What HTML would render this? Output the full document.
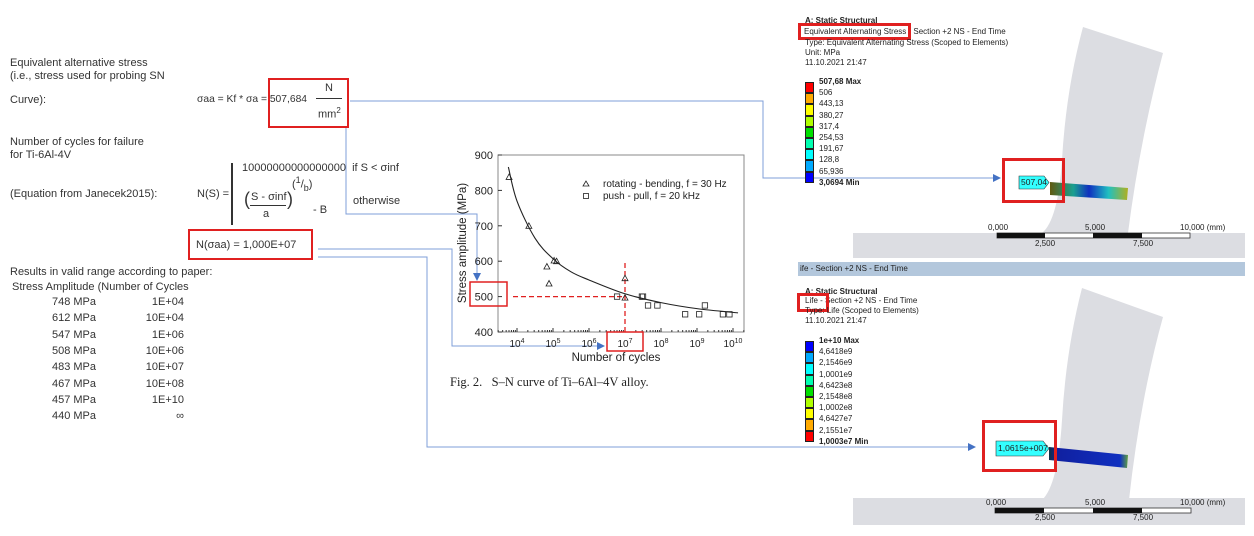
<!DOCTYPE html>
<html><head><meta charset="utf-8"><style>
body{margin:0;width:1254px;height:536px;background:#fff;overflow:hidden;position:relative;font-family:"Liberation Sans","DejaVu Sans",sans-serif;color:#333}
.t{position:absolute;font-size:11px;white-space:nowrap;line-height:1}
.s{position:absolute;font-size:8px;white-space:nowrap;line-height:1;color:#222}
.rb{position:absolute;border:2px solid #e02020;box-sizing:border-box}
</style></head><body>
<svg width="1254" height="536" style="position:absolute;left:0;top:0">
<defs><marker id="ar" markerWidth="8" markerHeight="8" refX="7" refY="4" orient="auto"><path d="M0,0L8,4L0,8z" fill="#4472c4"/></marker></defs>
<g fill="none" stroke="#7f9fd8" stroke-width="1">
<polyline points="350,101 763,101 763,178 1000,178" marker-end="url(#ar)"/>
<polyline points="346,128 346,214 477,214 477,280" marker-end="url(#ar)"/>
<polyline points="318,249 452,249 452,346 604,346" marker-end="url(#ar)"/>
<polyline points="318,257 427,257 427,447 975,447" marker-end="url(#ar)"/>
</g></svg>

<div class="t" style="left:10px;top:58px">Equivalent alternative stress</div>
<div class="t" style="left:10px;top:71px">(i.e., stress used for probing SN</div>
<div class="t" style="left:10px;top:95px">Curve):</div>
<div class="t" style="left:197px;top:95px;font-size:10.3px">σaa = Kf * σa = 507,684</div>
<div class="t" style="left:325px;top:83px">N</div>
<div style="position:absolute;left:316px;top:98px;width:26px;border-top:1px solid #333"></div>
<div class="t" style="left:318px;top:107px">mm<sup style="font-size:8px">2</sup></div>
<div class="rb" style="left:268px;top:78px;width:81px;height:50px"></div>
<div class="t" style="left:10px;top:137px">Number of cycles for failure</div>
<div class="t" style="left:10px;top:150px">for Ti-6Al-4V</div>
<div class="t" style="left:10px;top:189px">(Equation from Janecek2015):</div>
<div class="t" style="left:197px;top:189px">N(S) =</div>
<div style="position:absolute;left:231px;top:163px;width:2px;height:62px;background:#333"></div>
<div class="t" style="left:242px;top:163px">10000000000000000 &nbsp;if S &lt; σinf</div>
<div class="t" style="left:244px;top:190px;font-size:18px;font-weight:100">(</div>
<div class="t" style="left:251px;top:192px">S - σinf</div>
<div style="position:absolute;left:250px;top:205px;width:36px;border-top:1px solid #333"></div>
<div class="t" style="left:263px;top:209px">a</div>
<div class="t" style="left:287px;top:190px;font-size:18px">)</div>
<div class="t" style="left:292px;top:176px">(<sup style="font-size:9px">1</sup>/<sub style="font-size:9px">b</sub>)</div>
<div class="t" style="left:313px;top:205px">- B</div>
<div class="t" style="left:353px;top:196px">otherwise</div>
<div class="t" style="left:196px;top:240px">N(σaa) = 1,000E+07</div>
<div class="rb" style="left:188px;top:229px;width:125px;height:31px"></div>
<div class="t" style="left:10px;top:267px">Results in valid range according to paper:</div>
<div class="t" style="left:12px;top:282px">Stress Amplitude (Number of Cycles</div>
<div id="tbl"></div>

<svg id="chart" width="1254" height="536" style="position:absolute;left:0;top:0;font-family:'Liberation Sans',sans-serif"></svg>
<div class="t" style="left:450px;top:376px;font-family:'Liberation Serif',serif;font-size:12.5px;color:#222">Fig. 2. &nbsp;&nbsp;S–N curve of Ti–6Al–4V alloy.</div>

<svg width="1254" height="536" style="position:absolute;left:0;top:0">
<rect x="853" y="233" width="392" height="25" fill="#dcdde2"/>
<path d="M1083,27 L1163,53 Q1140,140 1128,233 L1042,233 Q1058,220 1062,160 Q1066,90 1083,27z" fill="#dcdde2"/>
<rect x="853" y="498" width="392" height="27" fill="#dcdde2"/>
<path d="M1082,288 L1163,317 Q1140,400 1129,500 L1042,500 Q1058,485 1062,420 Q1066,350 1082,288z" fill="#dcdde2"/>
<defs><linearGradient id="g1" x1="0" x2="1"><stop offset="0" stop-color="#605a10"/><stop offset="0.3" stop-color="#1aa090"/><stop offset="0.5" stop-color="#1030c0"/><stop offset="0.75" stop-color="#20c0c0"/><stop offset="1" stop-color="#b0b020"/></linearGradient>
<linearGradient id="g2" x1="0" x2="1"><stop offset="0" stop-color="#103040"/><stop offset="0.1" stop-color="#1020a0"/><stop offset="0.9" stop-color="#1030c0"/><stop offset="1" stop-color="#60a040"/></linearGradient></defs>
<polygon points="1050,182 1128,188 1127,200 1050,195" fill="url(#g1)"/>
<polygon points="1049,447 1128,455 1127,468 1049,460" fill="url(#g2)"/>
<rect x="997" y="233" width="193" height="5" fill="#fff" stroke="#333" stroke-width="0.8"/>
<rect x="997" y="233" width="48" height="5" fill="#111"/><rect x="1093" y="233" width="49" height="5" fill="#111"/>
<rect x="995" y="508" width="196" height="5" fill="#fff" stroke="#333" stroke-width="0.8"/>
<rect x="995" y="508" width="49" height="5" fill="#111"/><rect x="1093" y="508" width="49" height="5" fill="#111"/>
<polygon points="1019,176 1044,176 1049,182.5 1044,189 1019,189" fill="#3ff" stroke="#333" stroke-width="0.6"/>
<polygon points="996,441 1043,441 1049,448.5 1043,456 996,456" fill="#3ff" stroke="#333" stroke-width="0.6"/>
</svg>
<div class="s" style="left:1021px;top:178px;font-size:8.5px">507,04</div>
<div class="s" style="left:998px;top:444px;font-size:8.5px">1,0615e+007</div>
<div class="rb" style="left:1002px;top:158px;width:63px;height:45px;border-width:3px"></div>
<div class="rb" style="left:982px;top:420px;width:75px;height:52px;border-width:3px"></div>

<div class="s" style="left:805px;top:17px;font-weight:bold">A: Static Structural</div>
<div class="s" style="left:804px;top:28px">Equivalent Alternating Stress - Section +2 NS - End Time</div>
<div class="rb" style="left:798px;top:23px;width:113px;height:17px;border-width:3px"></div>
<div class="s" style="left:805px;top:39px">Type: Equivalent Alternating Stress (Scoped to Elements)</div>
<div class="s" style="left:805px;top:49px">Unit: MPa</div>
<div class="s" style="left:805px;top:59px">11.10.2021 21:47</div>
<div id="leg1"></div>

<div style="position:absolute;left:798px;top:262px;width:447px;height:14px;background:#b3c7dc"></div>
<div class="s" style="left:800px;top:265px">ife - Section +2 NS - End Time</div>
<div class="s" style="left:805px;top:288px;font-weight:bold">A: Static Structural</div>
<div class="s" style="left:805px;top:297px">Life - Section +2 NS - End Time</div>
<div class="rb" style="left:797px;top:293px;width:32px;height:19px;border-width:3px"></div>
<div class="s" style="left:805px;top:307px">Type: Life (Scoped to Elements)</div>
<div class="s" style="left:805px;top:317px">11.10.2021 21:47</div>
<div id="leg2"></div>

<div class="s" style="left:988px;top:224px">0,000</div>
<div class="s" style="left:1085px;top:224px">5,000</div>
<div class="s" style="left:1180px;top:224px">10,000 (mm)</div>
<div class="s" style="left:1035px;top:240px">2,500</div>
<div class="s" style="left:1133px;top:240px">7,500</div>
<div class="s" style="left:986px;top:499px">0,000</div>
<div class="s" style="left:1085px;top:499px">5,000</div>
<div class="s" style="left:1180px;top:499px">10,000 (mm)</div>
<div class="s" style="left:1035px;top:514px">2,500</div>
<div class="s" style="left:1133px;top:514px">7,500</div>

<script>
const tblStress=["748 MPa","612 MPa","547 MPa","508 MPa","483 MPa","467 MPa","457 MPa","440 MPa"];
const tblCycles=["1E+04","10E+04","1E+06","10E+06","10E+07","10E+08","1E+10","∞"];
const triN=[3.78,4.33,4.83,4.89,5.03,5.1,7.0,7.0];
const triS=[838,700,585,537,602,600,552,497];
const sqN=[6.78,7.47,7.5,7.64,7.9,8.67,9.06,9.22,9.72,9.9];
const sqS=[500,500,500,475,475,450,450,475,450,450];
const curveN=[3.76,4.0,4.5,5.0,5.5,6.0,7.0,8.0,9.0,10.14];
const curveS=[866,770,665,607,570,547,508,483,466,454];
const yTicks=[400,500,600,700,800,900];
const xTicks=[4,5,6,7,8,9,10];
const targetS=[500];const targetN=[7.0];
const leg1Labels=["507,68 Max","506","443,13","380,27","317,4","254,53","191,67","128,8","65,936","3,0694 Min"];
const leg1Colors=["#ff0000","#ffaa00","#ffff00","#b0ff00","#00e000","#00ffb0","#00ffff","#00aaff","#0000ff"];
const leg2Labels=["1e+10 Max","4,6418e9","2,1546e9","1,0001e9","4,6423e8","2,1548e8","1,0002e8","4,6427e7","2,1551e7","1,0003e7 Min"];
const leg2Colors=["#0000ff","#00aaff","#00ffff","#00ffb0","#00e000","#b0ff00","#ffff00","#ffaa00","#ff0000"];

const tbl=document.getElementById('tbl');
tblStress.forEach((s,i)=>{
 const a=document.createElement('div');a.className='t';a.textContent=s;
 a.style.cssText=`right:${1254-96}px;top:${297+i*16.3}px`;
 
 
 tbl.appendChild(a);
 const b=document.createElement('div');b.className='t';b.textContent=tblCycles[i];
 b.style.cssText=`right:${1254-184}px;top:${297+i*16.3}px`;
 
 
 tbl.appendChild(b);
});
function legend(id,labels,colors,y0){
 const c=document.getElementById(id);const h=11.2;
 colors.forEach((col,i)=>{const d=document.createElement('div');
  d.style.cssText=`position:absolute;left:805px;top:${y0+i*h}px;width:9px;height:${h}px;background:${col};border:1px solid #222;box-sizing:border-box`;
  
  
  c.appendChild(d);});
 labels.forEach((l,i)=>{const d=document.createElement('div');d.className='s';d.textContent=l;
  d.style.cssText=`left:819px;top:${y0-4+i*h}px;`+((i==0||i==labels.length-1)?'font-weight:bold':'');
  
  
  c.appendChild(d);});
}
legend('leg1',leg1Labels,leg1Colors,82);
legend('leg2',leg2Labels,leg2Colors,341);

const svg=document.getElementById('chart');const NS='http://www.w3.org/2000/svg';
const L=498,R=744,T=155,B=332;
const xs=v=>517+(v-4)*36, ys=v=>332-(v-400)/500*177;
function el(t,a,name){const e=document.createElementNS(NS,t);for(const k in a)e.setAttribute(k,a[k]);
 
 
 svg.appendChild(e);return e;}
el('rect',{x:L,y:T,width:R-L,height:B-T,fill:'none',stroke:'#888','stroke-width':1},'plot-frame');
yTicks.forEach(v=>{el('line',{x1:L,x2:L+4,y1:ys(v),y2:ys(v),stroke:'#333'},'y-tick');
 const t=el('text',{x:L-5,y:ys(v)+4,'text-anchor':'end','font-size':11,fill:'#222'},'y-tick-label');t.textContent=v;});
for(let d=3;d<=10;d++)for(let m=1;m<10;m++){const x=xs(d+Math.log10(m));if(x<L||x>R)continue;
 el('line',{x1:x,x2:x,y1:B,y2:B-(m==1?4:2),stroke:'#333'},'x-tick');}
xTicks.forEach(v=>{const t=el('text',{x:xs(v),y:347,'text-anchor':'middle','font-size':10,fill:'#222'},'x-tick-label');
 t.innerHTML='10<tspan dy="-4" font-size="7">'+v+'</tspan>';});
let t=el('text',{x:616,y:361,'text-anchor':'middle','font-size':11.5,fill:'#222'},'x-axis-title');t.textContent='Number of cycles';
t=el('text',{x:0,y:0,'text-anchor':'middle','font-size':11.5,fill:'#222',transform:`translate(466,243) rotate(-90)`},'y-axis-title');t.textContent='Stress amplitude (MPa)';
let p=curveN.map((n,i)=>[xs(n),ys(curveS[i])]);let d='M'+p[0];
for(let i=0;i<p.length-1;i++){const p0=p[i-1]||p[i],p1=p[i],p2=p[i+1],p3=p[i+2]||p2;
 d+=` C${p1[0]+(p2[0]-p0[0])/6},${p1[1]+(p2[1]-p0[1])/6} ${p2[0]-(p3[0]-p1[0])/6},${p2[1]-(p3[1]-p1[1])/6} ${p2[0]},${p2[1]}`;}
el('path',{d,fill:'none',stroke:'#222','stroke-width':1.1},'fit-curve');
el('line',{x1:513,x2:xs(targetN[0]),y1:ys(targetS[0]),y2:ys(targetS[0]),stroke:'#e02020','stroke-dasharray':'5,3','stroke-width':1.3},'target-stress-line');
el('line',{x1:xs(targetN[0]),x2:xs(targetN[0]),y1:263,y2:B,stroke:'#e02020','stroke-dasharray':'5,3','stroke-width':1.3},'target-cycles-line');
triN.forEach((n,i)=>{const x=xs(n),y=ys(triS[i]);el('polygon',{points:`${x},${y-3} ${x-3},${y+2.5} ${x+3},${y+2.5}`,fill:'none',stroke:'#222','stroke-width':0.8},'triangle-point');});
sqN.forEach((n,i)=>{const x=xs(n),y=ys(sqS[i]);el('rect',{x:x-2.7,y:y-2.7,width:5.4,height:5.4,fill:'none',stroke:'#222','stroke-width':0.8},'square-point');});
el('polygon',{points:'586,181 583,186 589,186',fill:'none',stroke:'#222','stroke-width':0.8},'legend-triangle');
t=el('text',{x:603,y:187,'font-size':10,fill:'#222'},'legend-rotating');t.textContent='rotating - bending, f = 30 Hz';
el('rect',{x:583.5,y:193.5,width:5,height:5,fill:'none',stroke:'#222','stroke-width':0.8},'legend-square');
t=el('text',{x:603,y:199,'font-size':10,fill:'#222'},'legend-pushpull');t.textContent='push - pull, f = 20 kHz';
el('rect',{x:470,y:282,width:37,height:24,fill:'none',stroke:'#e02020','stroke-width':1.5},'stress-500-highlight');
el('rect',{x:607,y:332,width:36,height:19,fill:'none',stroke:'#e02020','stroke-width':1.5},'cycles-1e7-highlight');
</script>
</body></html>
